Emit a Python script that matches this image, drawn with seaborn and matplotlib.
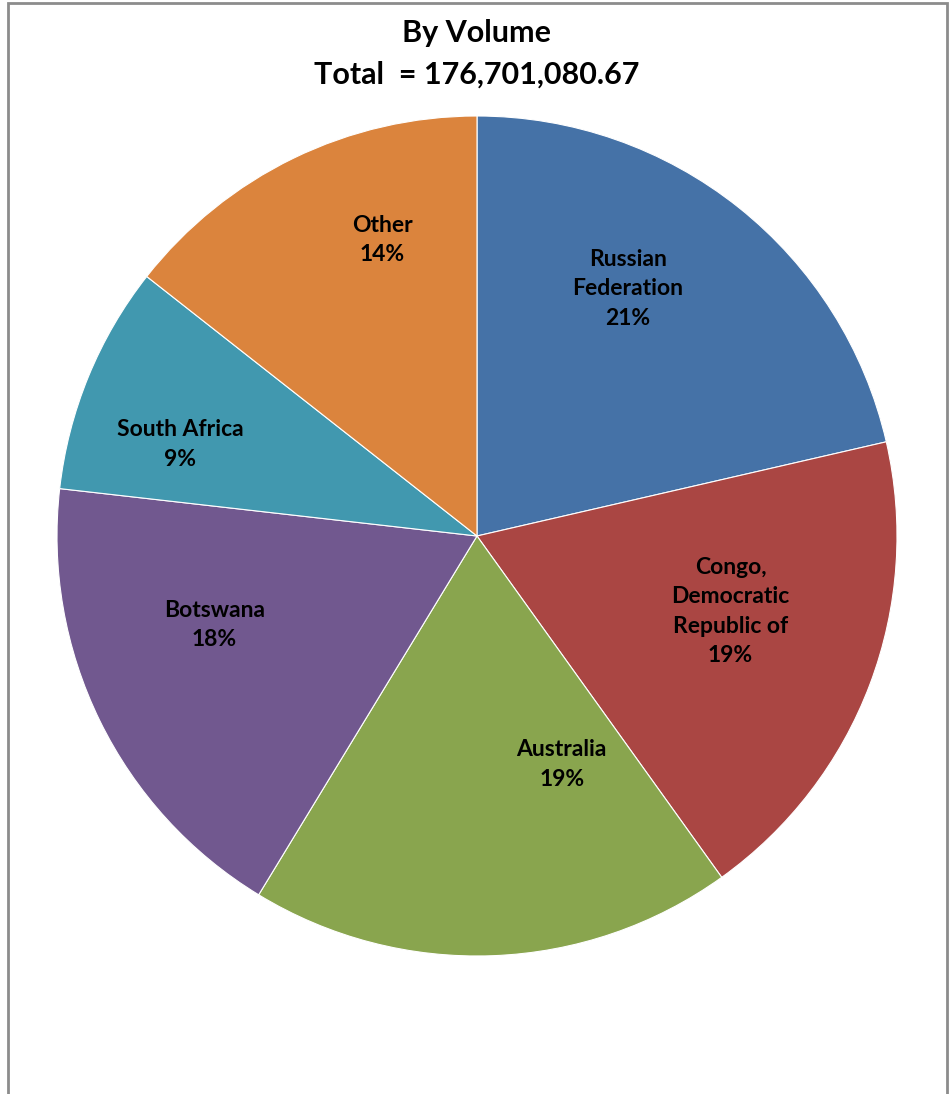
import matplotlib
matplotlib.use("Agg")
import matplotlib.pyplot as plt
import seaborn as sns
import numpy as np
from matplotlib.patches import Rectangle

# ---- data ----
countries = ["Russian\nFederation", "Congo,\nDemocratic\nRepublic of", "Australia",
             "Botswana", "South Africa", "Other"]
shares = [21.4, 18.7, 18.6, 18.1, 8.8, 14.4]
title_lines = ["By Volume", "Total  = 176,701,080.67"]

# ---- style ----
colors = ["#4572A7", "#AA4643", "#89A54E", "#71588F", "#4198AF", "#DB843D"]
# label layout: (angle shift in degrees, radial distance) relative to wedge mid-angle
label_layout = [(7.1, 0.69), (4.1, 0.63), (18.2, 0.58), (-7.4, 0.66), (5.2, 0.74), (-8.2, 0.74)]

sns.set_theme(style="white")
plt.rcParams["font.family"] = ["Lato", "DejaVu Sans"]

W, H = 949, 1094
fig = plt.figure(figsize=(W / 100, H / 100), dpi=100)
fig.patch.set_facecolor("white")

# outer chart border
fig.patches.append(Rectangle((7.5 / W, -0.05), (946.5 - 7.5) / W, 1.05 - 2.5 / H,
                             transform=fig.transFigure, fill=False,
                             edgecolor="#8c8c8c", linewidth=2.0, zorder=0))

cx, cy, r = 477, 536, 420
ax = fig.add_axes([(cx - r) / W, (H - cy - r) / H, 2 * r / W, 2 * r / H])
wedges, _ = ax.pie(shares, colors=colors, startangle=90, counterclock=False,
                   wedgeprops=dict(edgecolor="white", linewidth=0.8))
ax.set_xlim(-1, 1)
ax.set_ylim(-1, 1)
ax.set_aspect("equal")
ax.axis("off")

total = sum(shares)
for w, name, val, (dang, dist) in zip(wedges, countries, shares, label_layout):
    mid = np.deg2rad((w.theta1 + w.theta2) / 2 + dang)
    x, y = dist * np.cos(mid), dist * np.sin(mid)
    ax.text(x, y, f"{name}\n{round(val / total * 100):.0f}%", ha="center", va="center",
            fontsize=16.5, fontweight="bold", color="black", linespacing=1.5)

fig.text(477 / W, 1 - 33 / H, title_lines[0], ha="center", va="center",
         fontsize=22, fontweight="bold", color="black")
fig.text(477 / W, 1 - 75 / H, title_lines[1], ha="center", va="center",
         fontsize=22, fontweight="bold", color="black")

fig.savefig("out.png", dpi=100, facecolor="white")
